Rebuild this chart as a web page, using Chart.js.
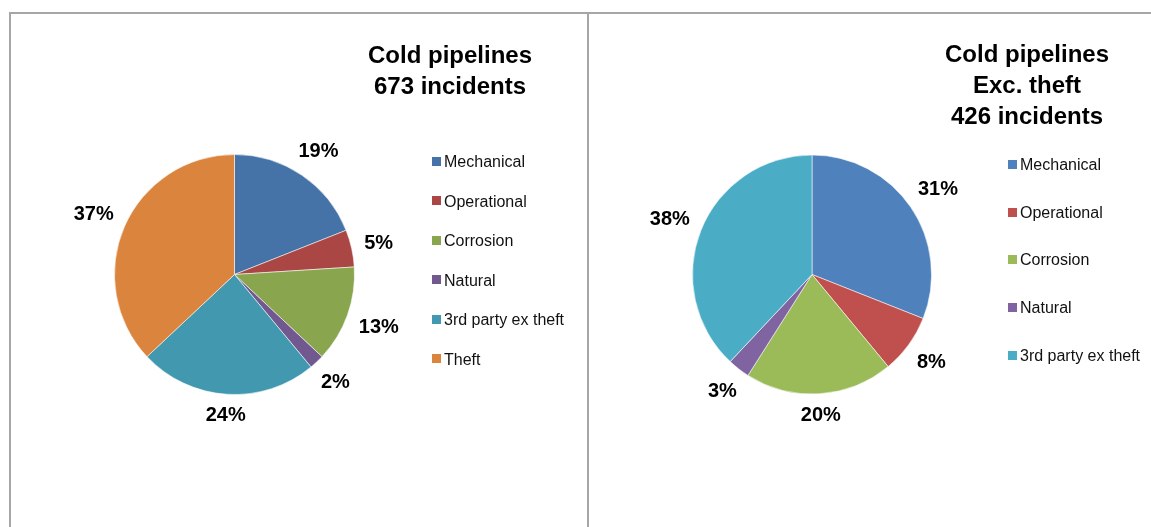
<!DOCTYPE html>
<html>
<head>
<meta charset="utf-8">
<script src="https://cdn.jsdelivr.net/npm/chart.js@4"></script>
<style>
    html, body          { margin: 0; padding: 0; background: #FFFFFF; }
    body                { width: 1151px; height: 527px; position: relative; overflow: hidden; font-family: "Liberation Sans", Arial, sans-serif; }
    .frame              { position: absolute; border-color: #A6A6A6; border-style: solid; border-width: 0; }
    .chart_canvas       { position: absolute; top: 0; }
    .chart_title        { position: absolute; text-align: center; font-weight: bold; font-size: 24px; line-height: 31px; color: #000000; white-space: nowrap; }
    .chart_legend       { position: absolute; font-size: 16px; color: #111111; white-space: nowrap; }
    .legend_row         { position: relative; padding-left: 12px; }
    .legend_box         { position: absolute; left: 0; width: 9px; height: 9px; }
</style>
</head>
<body>

<div class="frame" style="left: 9px; top: 12px; width: 576px; height: 600px; border-left-width: 2px; border-top-width: 2px; border-right-width: 2px;"></div>
<div class="frame" style="left: 587px; top: 12px; width: 600px; height: 600px; border-top-width: 2px;"></div>

<canvas id="graph_left" class="chart_canvas" width="587" height="527" style="left: 0px;"></canvas>
<canvas id="graph_right" class="chart_canvas" width="564" height="527" style="left: 587px;"></canvas>

<div id="title_left" class="chart_title" style="left: 330px; top: 39px; width: 240px;"></div>
<div id="title_right" class="chart_title" style="left: 907px; top: 38px; width: 240px;"></div>

<div id="legend_left" class="chart_legend" style="left: 432px; top: 142px;"></div>
<div id="legend_right" class="chart_legend" style="left: 1008px; top: 141px;"></div>

<script>

var TITLE_LEFT                                              = ['Cold pipelines', '673 incidents'];
var TITLE_RIGHT                                             = ['Cold pipelines', 'Exc. theft', '426 incidents'];

var LABELS_LEFT                                             = ['Mechanical', 'Operational', 'Corrosion', 'Natural', '3rd party ex theft', 'Theft'];
var VALUES_LEFT                                             = [19, 5, 13, 2, 24, 37];

var LABELS_RIGHT                                            = ['Mechanical', 'Operational', 'Corrosion', 'Natural', '3rd party ex theft'];
var VALUES_RIGHT                                            = [31, 8, 20, 3, 38];

var COLORS_LEFT                                             = ['#4572A7', '#AA4643', '#89A54E', '#71588F', '#4198AF', '#DB843D'];
var COLORS_RIGHT                                            = ['#4F81BD', '#C0504D', '#9BBB59', '#8064A2', '#4BACC6'];

var graph_left_chart                                        = null;
var graph_right_chart                                       = null;



/**-- Percentage labels outside each slice --**/

var plugin_pie_labels = {
    id: 'pie_labels',
    afterDatasetsDraw: function(chart) {

        var ctx     = chart.ctx;
        var meta    = chart.getDatasetMeta(0);
        var data    = chart.data.datasets[0].data;
        var total   = data.reduce(function(a, b) { return a + b; }, 0);

        ctx.save();
        ctx.font            = 'bold 20px "Liberation Sans", Arial, sans-serif';
        ctx.fillStyle       = '#000000';
        ctx.textAlign       = 'center';
        ctx.textBaseline    = 'middle';

        meta.data.forEach(function(arc, i) {
            var p       = arc.getProps(['x', 'y', 'startAngle', 'endAngle', 'outerRadius'], true);
            var mid     = (p.startAngle + p.endAngle) / 2;
            var cos     = Math.cos(mid);
            var sin     = Math.sin(mid);
            var text    = Math.round(data[i] / total * 100) + '%';
            var w       = ctx.measureText(text).width;
            var d       = p.outerRadius + 12 + Math.abs(cos) * w / 2 + Math.abs(sin) * 7.5;
            ctx.fillText(text, p.x + cos * d, p.y + sin * d + 1);
        });

        ctx.restore();
    }
};



function graph_create(canvas, labels, values, colors, padding) {

    return new Chart(canvas, {
        type: 'pie',
        data: {
            labels: labels,
            datasets: [
                {
                    data: values,
                    backgroundColor: colors,
                    borderColor: 'rgba(255, 255, 255, 0.55)',
                    borderWidth: 1,
                }
            ]
        },
        options: {
            responsive: false,
            animation: false,
            layout: {
                padding: padding
            },
            plugins: {
                legend: {
                    display: false
                },
                tooltip: {
                    enabled: false
                }
            }
        },
        plugins: [plugin_pie_labels]
    });
}



function title_draw(id, lines) {

    document.getElementById(id).innerHTML = lines.join('<br>');
}



function legend_draw(id, labels, colors, row_height) {

    var html = '';

    for (var i = 0; i < labels.length; i++) {
        html += '<div class="legend_row" style="height: ' + row_height + 'px; line-height: ' + row_height + 'px;">'
             +  '<span class="legend_box" style="top: ' + (row_height / 2 - 5) + 'px; background: ' + colors[i] + ';"></span>'
             +  labels[i]
             +  '</div>';
    }

    document.getElementById(id).innerHTML = html;
}



function graph_draw() {

    graph_left_chart                                        = graph_create(document.getElementById('graph_left'), LABELS_LEFT, VALUES_LEFT, COLORS_LEFT,
                                                                           { left: 114, right: 232, top: 154, bottom: 132 });

    graph_right_chart                                       = graph_create(document.getElementById('graph_right'), LABELS_RIGHT, VALUES_RIGHT, COLORS_RIGHT,
                                                                           { left: 105, right: 219, top: 154, bottom: 132 });

    title_draw('title_left', TITLE_LEFT);
    title_draw('title_right', TITLE_RIGHT);

    legend_draw('legend_left', LABELS_LEFT, COLORS_LEFT, 39.5);
    legend_draw('legend_right', LABELS_RIGHT, COLORS_RIGHT, 47.7);
}

graph_draw();

</script>
</body>
</html>
